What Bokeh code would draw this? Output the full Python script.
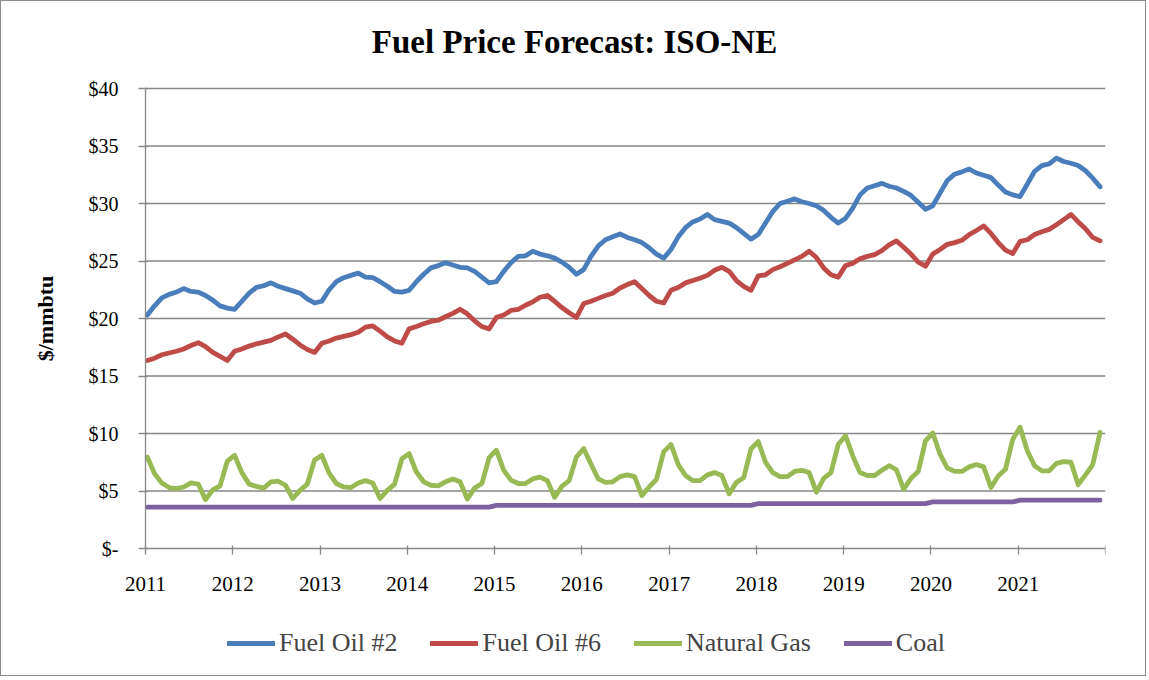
import math
from bokeh.plotting import figure
from bokeh.models import FixedTicker, Legend, LegendItem, Range1d, Label
from bokeh.embed import file_html
from bokeh.resources import INLINE

years = ["2011", "2012", "2013", "2014", "2015", "2016", "2017", "2018", "2019", "2020", "2021"]

fuel_oil_2 = [
    20.3, 21.1, 21.8, 22.1, 22.3, 22.6, 22.35, 22.3, 22.0, 21.6, 21.1, 20.9,
    20.8, 21.5, 22.2, 22.7, 22.85, 23.1, 22.8, 22.6, 22.4, 22.2, 21.7, 21.35,
    21.5, 22.5, 23.2, 23.55, 23.75, 23.95, 23.6, 23.55, 23.2, 22.8, 22.35, 22.3,
    22.45, 23.2, 23.85, 24.4, 24.6, 24.85, 24.65, 24.45, 24.4, 24.1, 23.6, 23.1,
    23.2, 24.1, 24.85, 25.4, 25.45, 25.85, 25.6, 25.45, 25.25, 24.9, 24.45, 23.85,
    24.25, 25.4, 26.3, 26.85, 27.1, 27.35, 27.05, 26.85, 26.6, 26.15, 25.6, 25.25,
    26.0, 27.1, 27.9, 28.4, 28.65, 29.05, 28.6, 28.45, 28.3, 27.9, 27.4, 26.9,
    27.3, 28.3, 29.3, 30.0, 30.2, 30.4, 30.15, 30.0, 29.8, 29.4, 28.8, 28.3,
    28.7, 29.6, 30.75, 31.35, 31.55, 31.75, 31.5, 31.35, 31.05, 30.7, 30.1, 29.5,
    29.8, 30.9, 32.0, 32.55, 32.75, 33.0, 32.65, 32.45, 32.25, 31.6, 31.0, 30.75,
    30.6, 31.7, 32.8, 33.3, 33.45, 33.95, 33.65, 33.5, 33.3, 32.85, 32.2, 31.45,
]

fuel_oil_6 = [
    16.35, 16.55, 16.85, 17.0, 17.15, 17.35, 17.65, 17.9, 17.55, 17.05, 16.7, 16.35,
    17.15, 17.35, 17.6, 17.8, 17.95, 18.1, 18.4, 18.65, 18.2, 17.7, 17.3, 17.05,
    17.85, 18.05, 18.3, 18.45, 18.6, 18.8, 19.25, 19.35, 18.9, 18.4, 18.05, 17.85,
    19.1, 19.3, 19.55, 19.75, 19.85, 20.15, 20.45, 20.8, 20.4, 19.8, 19.3, 19.1,
    20.1, 20.3, 20.7, 20.8, 21.15, 21.45, 21.85, 22.0, 21.5, 20.95, 20.5, 20.1,
    21.3, 21.5, 21.75, 22.0, 22.2, 22.65, 22.95, 23.2, 22.6, 22.0, 21.5, 21.35,
    22.45, 22.7, 23.1, 23.3, 23.5, 23.75, 24.2, 24.45, 24.1, 23.3, 22.8, 22.45,
    23.7, 23.8, 24.25, 24.5, 24.8, 25.1, 25.4, 25.85, 25.3, 24.4, 23.8, 23.6,
    24.6, 24.8, 25.2, 25.4, 25.55, 25.9, 26.4, 26.75, 26.2, 25.6, 24.9, 24.55,
    25.6, 26.0, 26.45, 26.6, 26.8, 27.3, 27.65, 28.05, 27.4, 26.6, 25.95, 25.65,
    26.7, 26.85, 27.3, 27.55, 27.75, 28.15, 28.6, 29.05, 28.4, 27.8, 27.05, 26.75,
]

natural_gas = [
    7.95, 6.5, 5.7, 5.3, 5.2, 5.35, 5.7, 5.6, 4.25, 5.1, 5.45, 7.6,
    8.1, 6.6, 5.6, 5.4, 5.25, 5.8, 5.85, 5.5, 4.35, 5.05, 5.6, 7.7,
    8.1, 6.55, 5.65, 5.35, 5.3, 5.7, 5.9, 5.7, 4.35, 5.05, 5.6, 7.8,
    8.25, 6.65, 5.8, 5.5, 5.45, 5.8, 6.05, 5.8, 4.3, 5.25, 5.65, 7.9,
    8.55, 6.8, 5.95, 5.65, 5.65, 6.05, 6.2, 5.9, 4.45, 5.4, 5.9, 7.95,
    8.7, 7.35, 6.05, 5.75, 5.8, 6.25, 6.4, 6.25, 4.6, 5.35, 6.0, 8.4,
    9.05, 7.3, 6.35, 5.9, 5.9, 6.4, 6.6, 6.35, 4.75, 5.75, 6.15, 8.65,
    9.3, 7.5, 6.6, 6.25, 6.25, 6.7, 6.8, 6.6, 4.9, 6.1, 6.6, 9.05,
    9.8, 8.05, 6.6, 6.35, 6.35, 6.8, 7.2, 6.85, 5.15, 6.1, 6.7, 9.35,
    10.05, 8.2, 7.0, 6.7, 6.7, 7.1, 7.3, 7.1, 5.3, 6.3, 6.9, 9.5,
    10.55, 8.5, 7.2, 6.75, 6.75, 7.4, 7.55, 7.5, 5.55, 6.4, 7.3, 10.1,
]

coal_by_year = [3.6, 3.6, 3.6, 3.6, 3.75, 3.75, 3.75, 3.9, 3.9, 4.05, 4.2]

y_ticks = [0, 5, 10, 15, 20, 25, 30, 35, 40]
y_tick_labels = ["$-", "$5", "$10", "$15", "$20", "$25", "$30", "$35", "$40"]

series_names = ["Fuel Oil #2", "Fuel Oil #6", "Natural Gas", "Coal"]
series_colors = ["#4A7EBB", "#BE4B48", "#98B954", "#7D60A0"]
title_text = "Fuel Price Forecast: ISO-NE"
y_axis_title = "$/mmbtu"

coal = [v for v in coal_by_year for _ in range(12)]
n = len(fuel_oil_2)
months = [i + 0.25 for i in range(n)]
x_end = 12 * len(years)

GRAY = "#878787"
SERIF = "Liberation Serif"

# canvas layout (pixels)
W, H = 1146, 676
AXIS_X_PX, RIGHT = 144, 42             # canvas column of the value axis, right border
Y_TOP_PX, Y_ZERO_PX = 87, 547          # canvas rows of $40 and $0
px_per_unit = (Y_ZERO_PX - Y_TOP_PX) / 40.0
y_min = -(H - Y_ZERO_PX) / px_per_unit
y_max = 40 + Y_TOP_PX / px_per_unit
px_per_month = (W - RIGHT - AXIS_X_PX) / x_end
x_min = -AXIS_X_PX / px_per_month

p = figure(width=W, height=H, output_backend="svg", toolbar_location=None,
           x_range=Range1d(x_min, x_end), y_range=Range1d(y_min, y_max),
           min_border_left=0, min_border_right=RIGHT, min_border_top=0, min_border_bottom=0)
p.styles = {"border": "1px solid #8c8c8c"}
p.outline_line_color = None
p.background_fill_color = "white"
p.border_fill_color = "white"

# horizontal gridlines across the plot area only
grid_levels = y_ticks[1:]
p.segment(x0=[0] * len(grid_levels), y0=grid_levels, x1=[x_end] * len(grid_levels), y1=grid_levels,
          line_color=GRAY, line_width=1.3)

renderers = []
for ys, c in zip([fuel_oil_2, fuel_oil_6, natural_gas, coal], series_colors):
    r = p.line(months, ys, line_width=4.8, color=c, line_join="round", line_cap="round")
    renderers.append(r)

# axes (placed at the data origin, inside the frame so nothing is clipped)
x_ticks = [12 * i for i in range(len(years) + 1)]
p.xaxis.fixed_location = 0
p.xaxis.bounds = (0, x_end)
p.xaxis.ticker = FixedTicker(ticks=x_ticks)
p.xaxis.major_label_overrides = {12 * i: y for i, y in enumerate(years)} | {x_end: ""}
p.yaxis.fixed_location = 0
p.yaxis.bounds = (0, 40)
p.yaxis.ticker = FixedTicker(ticks=y_ticks)
p.yaxis.major_label_overrides = {t: l for t, l in zip(y_ticks, y_tick_labels)}

for ax in (p.xaxis[0], p.yaxis[0]):
    ax.axis_line_color = GRAY
    ax.axis_line_width = 1.3
    ax.major_tick_line_color = GRAY
    ax.major_tick_line_width = 1.3
    ax.minor_tick_line_color = None
    ax.major_label_text_font = SERIF
    ax.major_label_text_color = "black"

p.xaxis.major_tick_in = 3
p.xaxis.major_tick_out = 6
p.xaxis.major_label_standoff = 22
p.xaxis.major_label_text_font_size = "21px"

p.yaxis.major_tick_in = 2
p.yaxis.major_tick_out = 7
p.yaxis.major_label_standoff = 20
p.yaxis.major_label_text_font_size = "20px"

p.xgrid.grid_line_color = None
p.ygrid.grid_line_color = None

# value-axis title, centred on the $0-$40 span (screen units relative to frame bottom-left)
p.add_layout(Label(x=44, y=H - (Y_TOP_PX + Y_ZERO_PX) / 2, x_units="screen", y_units="screen",
                   text=y_axis_title, angle=math.pi / 2, text_align="center", text_baseline="middle",
                   text_font=SERIF, text_font_style="bold", text_font_size="22px",
                   text_color="black"))

# chart title
p.add_layout(Label(x=573, y=H - 40, x_units="screen", y_units="screen",
                   text=title_text, text_align="center", text_baseline="alphabetic",
                   text_font=SERIF, text_font_style="bold", text_font_size="33px",
                   text_color="black"))

legend = Legend(items=[LegendItem(label=nm, renderers=[r]) for nm, r in zip(series_names, renderers)],
                orientation="horizontal", location=(226, 19),
                glyph_width=48, glyph_height=30, label_height=30, label_standoff=4,
                spacing=33, padding=0, margin=0, border_line_color=None,
                background_fill_alpha=0, label_text_font=SERIF, label_text_font_size="26px")
p.add_layout(legend, "center")

open("out.html", "w").write(file_html(p, INLINE))
